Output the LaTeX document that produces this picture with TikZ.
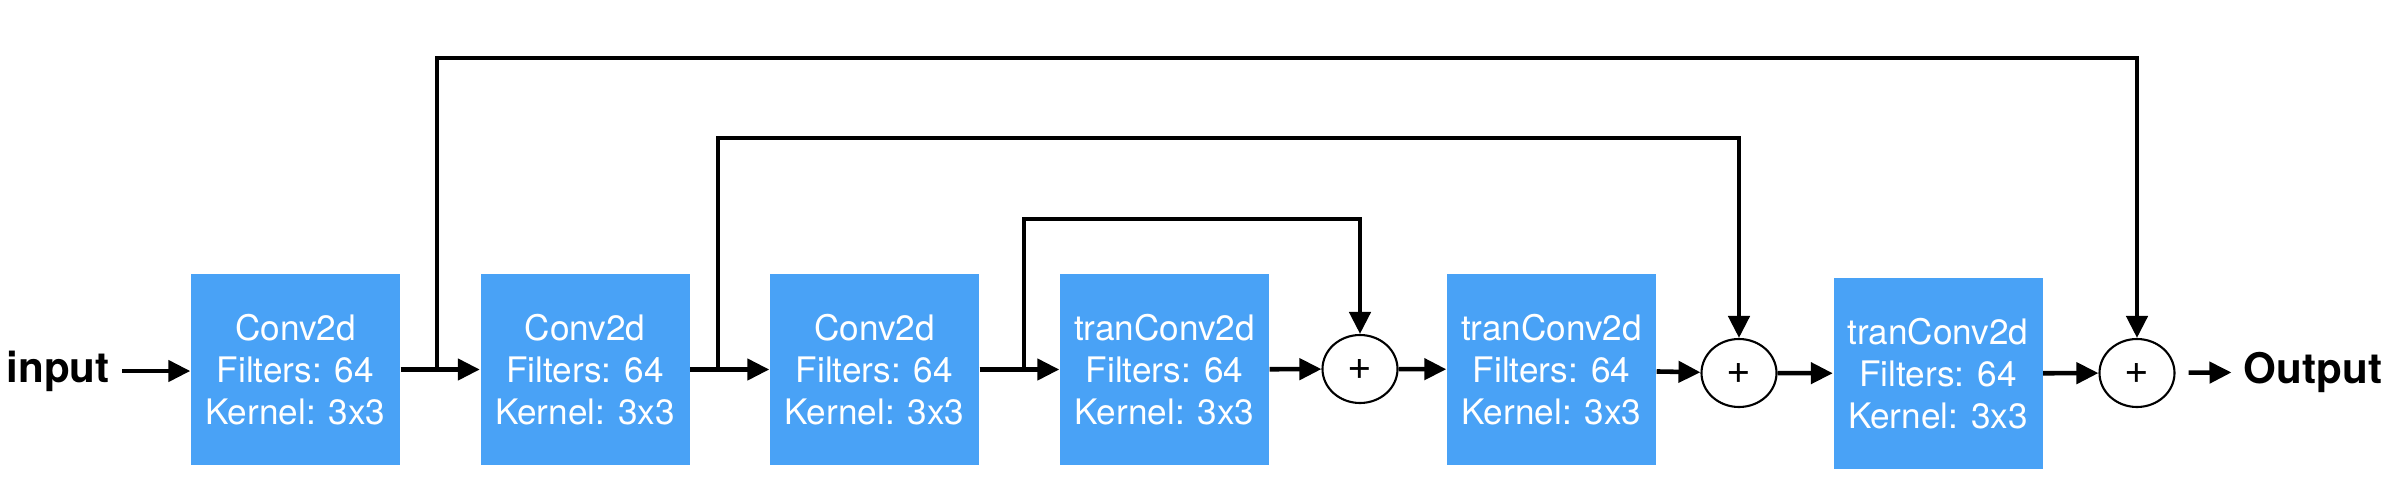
\documentclass[tikz,border=0pt]{standalone}
\usepackage{fontspec}
\setmainfont{TeX Gyre Heros}
\usepackage{tikz}
\usetikzlibrary{positioning, shapes.geometric, calc, arrows.meta}
\definecolor{layerblue}{HTML}{49A2F6}

\begin{document}
\begin{tikzpicture}[
  font=\fontsize{10}{12}\selectfont,
  layer/.style={rectangle, fill=layerblue, text=white, minimum width=2.09cm, minimum height=1.91cm, align=center, inner sep=0pt},
  adder/.style={ellipse, draw, line width=0.6pt, minimum width=0.75cm, minimum height=0.68cm, inner sep=0pt, font=\fontsize{12}{12}\selectfont},
  term/.style={font=\fontsize{12}{14}\selectfont\bfseries},
  arr/.style={line width=1.3pt, -{Triangle[length=2.2mm, width=2.1mm]}},
]
\useasboundingbox (0,0) rectangle (23.92,4.84);

% Input / output
\node[term] (in) at (0.58,1.13) {input};
\node[term] (out) at (23.13,1.12) {Output};

% Layers
\node[layer] (conv1) at (2.955,1.145) {Conv2d\\Filters: 64\\Kernel: 3x3};
\node[layer] (conv2) at (5.85,1.145) {Conv2d\\Filters: 64\\Kernel: 3x3};
\node[layer] (conv3) at (8.745,1.145) {Conv2d\\Filters: 64\\Kernel: 3x3};
\node[layer] (tconv1) at (11.645,1.145) {tranConv2d\\Filters: 64\\Kernel: 3x3};
\node[layer] (tconv2) at (15.515,1.145) {tranConv2d\\Filters: 64\\Kernel: 3x3};
\node[layer] (tconv3) at (19.38,1.105) {tranConv2d\\Filters: 64\\Kernel: 3x3};

% Sums
\node[adder] (add1) at (13.60,1.15) {+};
\node[adder] (add2) at (17.39,1.11) {+};
\node[adder] (add3) at (21.37,1.11) {+};

% Main path
\draw[arr] (in) -- (in -| conv1.west);
\draw[arr] (conv1) -- (conv2);
\draw[arr] (conv2) -- (conv3);
\draw[arr] (conv3) -- (tconv1);
\draw[arr] (tconv1) -- (add1);
\draw[arr] (add1) -- (tconv2);
\draw[arr] (tconv2) -- (add2);
\draw[arr] (add2) -- (tconv3);
\draw[arr] (tconv3) -- (add3);
\draw[arr, shorten <=1.3mm] (add3) -- (out);

% Skip connections
\coordinate (skip1) at (4.37,1.145);
\coordinate (skip2) at (7.18,1.145);
\coordinate (skip3) at (10.24,1.145);
\coordinate (top1) at (4.37,4.26);
\coordinate (top2) at (7.18,3.46);
\coordinate (top3) at (10.24,2.65);
\draw[arr] (skip1) -- (top1) -| (add3);
\draw[arr] (skip2) -- (top2) -| (add2);
\draw[arr] (skip3) -- (top3) -| (add1);
\end{tikzpicture}
\end{document}
